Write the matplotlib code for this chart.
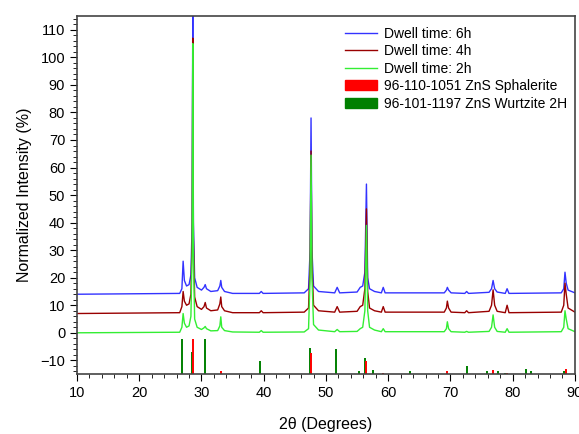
import matplotlib.pyplot as plt
from matplotlib.lines import Line2D
from matplotlib.patches import Patch
from matplotlib.ticker import MultipleLocator

# 2theta / intensity points (6h, offset ~14)
x_6h = [10, 26.5, 26.85, 27.05, 27.25, 27.6, 28.0, 28.3, 28.5, 28.6, 28.7, 28.9, 29.3, 30.0, 30.4,
        30.6, 30.8, 31.5, 32.6, 32.95, 33.1, 33.25, 33.7, 35, 39.3, 39.6, 39.9, 46.5, 47.2, 47.45,
        47.6, 47.75, 48.0, 48.8, 51.4, 51.8, 52.2, 55.0, 55.5, 55.9, 56.25, 56.5, 56.7, 57.0, 57.8,
        58.9, 59.2, 59.5, 69.0, 69.35, 69.5, 69.7, 70.1, 72.3, 72.6, 72.9, 76.2, 76.6, 76.85, 77.1,
        77.5, 78.8, 79.1, 79.4, 87.8, 88.2, 88.4, 88.6, 88.9, 90]
y_6h = [14, 14.3, 16, 26, 19, 17, 17.5, 21, 40, 118, 40, 20, 16.5, 15.5, 16.5,
        17.5, 16, 15, 15.3, 17, 19, 16.5, 15, 14.3, 14.3, 15, 14.3, 14.5, 16, 30,
        78, 30, 17, 15, 14.5, 16.5, 14.5, 14.8, 16.5, 17, 22, 54, 20, 16, 15,
        14.5, 16.5, 14.5, 14.5, 15.5, 16.5, 15.5, 14.5, 14.3, 15, 14.3, 14.7, 16, 19, 16,
        14.8, 14.3, 16, 14.3, 14.5, 16, 22, 18, 15.5, 14.5]

# 4h, offset ~7
x_4h = [10, 26.5, 26.85, 27.05, 27.25, 27.6, 28.0, 28.3, 28.5, 28.6, 28.7, 28.9, 29.3, 30.0, 30.4,
        30.6, 30.8, 31.5, 32.6, 32.95, 33.1, 33.25, 33.7, 35, 39.3, 39.6, 39.9, 46.5, 47.2, 47.45,
        47.6, 47.75, 48.0, 48.8, 51.4, 51.8, 52.2, 55.0, 55.5, 55.9, 56.25, 56.5, 56.7, 57.0, 57.8,
        58.9, 59.2, 59.5, 69.0, 69.35, 69.5, 69.7, 70.1, 72.3, 72.6, 72.9, 76.2, 76.6, 76.85, 77.1,
        77.5, 78.8, 79.1, 79.4, 87.8, 88.2, 88.4, 88.6, 88.9, 90]
y_4h = [7, 7.3, 9.5, 15, 11.5, 10, 10.5, 14, 35, 107, 35, 13, 9.5, 8.5, 9.5,
        11, 9, 8, 8.3, 10.5, 13, 9.5, 8, 7.3, 7.3, 8, 7.3, 7.5, 9, 25,
        66, 25, 10, 8, 7.5, 9.5, 7.5, 7.8, 9.5, 10, 16, 45, 15, 9, 8,
        7.5, 9.5, 7.5, 7.5, 9, 11.5, 9, 7.5, 7.3, 8, 7.3, 7.8, 10, 15.6, 10,
        7.8, 7.3, 10, 7.3, 7.5, 10, 18, 14, 9, 7.5]

# 2h, offset 0
x_2h = [10, 26.5, 26.85, 27.05, 27.25, 27.6, 28.0, 28.3, 28.5, 28.6, 28.7, 28.9, 29.3, 30.0, 30.4,
        30.6, 30.8, 31.5, 32.6, 32.95, 33.1, 33.25, 33.7, 35, 39.3, 39.6, 39.9, 46.5, 47.2, 47.45,
        47.6, 47.75, 48.0, 48.8, 51.4, 51.8, 52.2, 55.0, 55.5, 55.9, 56.25, 56.5, 56.7, 57.0, 57.8,
        58.9, 59.2, 59.5, 69.0, 69.35, 69.5, 69.7, 70.1, 72.3, 72.6, 72.9, 76.2, 76.6, 76.85, 77.1,
        77.5, 78.8, 79.1, 79.4, 87.8, 88.2, 88.4, 88.6, 88.9, 90]
y_2h = [0, 0.2, 2, 7, 3.5, 2, 2.5, 6, 30, 105, 30, 5, 2, 1.2, 1.8,
        2.3, 1.5, 0.7, 0.8, 2.5, 5.8, 2, 0.8, 0.3, 0.2, 0.8, 0.2, 0.3, 1.5, 20,
        64.5, 20, 3, 1, 0.4, 1.2, 0.4, 0.5, 1.5, 2, 8, 39, 8, 2, 1,
        0.4, 1.5, 0.4, 0.4, 1.5, 4, 1.5, 0.4, 0.2, 0.5, 0.2, 0.5, 2, 6.5, 2,
        0.5, 0.2, 1.5, 0.2, 0.4, 2, 8, 5, 1.5, 0.4]

# reference patterns (stick tops, drawn up from -15)
sph_pos = [28.6, 33.1, 47.55, 56.45, 59.15, 69.5, 76.8, 79.1, 88.5]
sph_top = [-2.2, -13.8, -7.3, -10.3, -14.6, -14.0, -13.5, -14.6, -13.0]
wur_pos = [26.85, 28.45, 30.5, 39.45, 47.4, 51.65, 55.3, 56.25, 57.5, 63.5, 72.7, 75.8, 77.6, 78.8, 82.2, 83.0, 88.2]
wur_top = [-2.2, -7.0, -2.3, -10.4, -5.6, -5.8, -13.7, -9.1, -13.5, -14.0, -12.2, -14.0, -13.8, -14.6, -13.3, -14.0, -13.7]

plt.rcParams['font.family'] = ['Liberation Sans', 'DejaVu Sans']

fig = plt.figure(figsize=(5.79, 4.34), dpi=100)
ax = fig.add_axes([0.133, 0.138, 0.860, 0.825])

ax.vlines(wur_pos, -15, wur_top, color='#008000', linewidth=1.4)
ax.vlines(sph_pos, -15, sph_top, color='#ff0000', linewidth=1.4)

ax.plot(x_6h, y_6h, color='#3333ff', linewidth=1)
ax.plot(x_4h, y_4h, color='#990000', linewidth=1)
ax.plot(x_2h, y_2h, color='#33ee33', linewidth=1)

ax.set_xlim(10, 90)
ax.set_ylim(-15, 115)
ax.xaxis.set_major_locator(MultipleLocator(10))
ax.xaxis.set_minor_locator(MultipleLocator(2))
ax.yaxis.set_major_locator(MultipleLocator(10))
ax.yaxis.set_minor_locator(MultipleLocator(2))
ax.tick_params(which='major', direction='out', length=5, labelsize=10.5)
ax.tick_params(which='minor', direction='out', length=3)
for s in ax.spines.values():
    s.set_color('#444444')
    s.set_linewidth(1.2)

ax.set_xlabel("2θ (Degrees)", fontsize=11.5, labelpad=12)
ax.set_ylabel("Normalized Intensity (%)", fontsize=11.5, labelpad=6)

handles = [
    Line2D([], [], color='#3333ff', linewidth=1),
    Line2D([], [], color='#990000', linewidth=1),
    Line2D([], [], color='#33ee33', linewidth=1),
    Patch(color='#ff0000'),
    Patch(color='#008000'),
]
labels = ["Dwell time: 6h", "Dwell time: 4h", "Dwell time: 2h",
          "96-110-1051 ZnS Sphalerite", "96-101-1197 ZnS Wurtzite 2H"]
ax.legend(handles, labels, loc='upper left', frameon=False, fontsize=10,
          handlelength=2.3, handleheight=0.75, handletextpad=0.5,
          labelspacing=0.25, borderpad=0, borderaxespad=0,
          bbox_to_anchor=(0.538, 0.97))

fig.savefig("out.png", dpi=100)
